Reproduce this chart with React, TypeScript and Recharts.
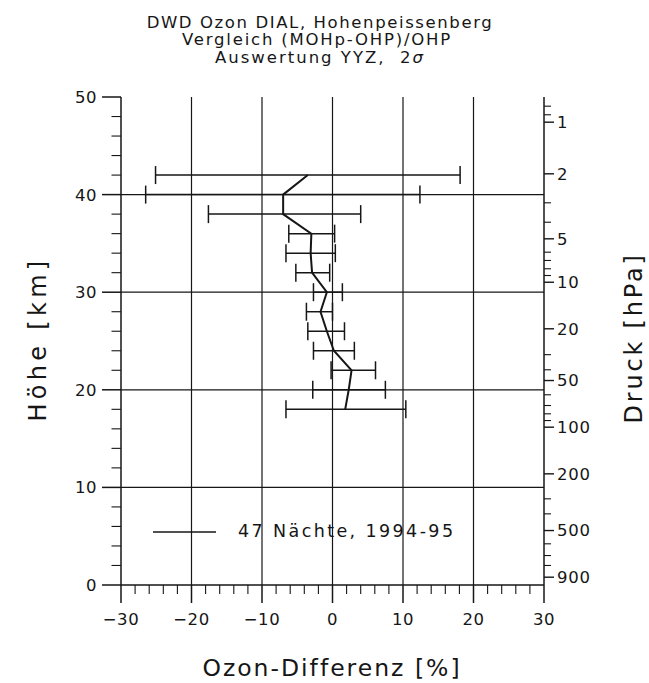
import React from 'react';
import { ScatterChart, Scatter, XAxis, YAxis, ErrorBar, ReferenceLine, Legend } from 'recharts';

// ---- data ----
const heights = [42, 40, 38, 36, 34, 32, 30, 28, 26, 24, 22, 20, 18];
const meanDiff = [-3.5, -7.0, -7.0, -3.0, -3.1, -2.9, -0.8, -1.7, -0.8, 0.2, 2.7, 2.3, 1.8];
const lowerBound = [-25.1, -26.5, -17.6, -6.2, -6.6, -5.2, -2.7, -3.7, -3.5, -2.7, -0.2, -2.8, -6.6];
const upperBound = [18.1, 12.4, 4.0, 0.3, 0.4, -0.4, 1.4, 0.0, 1.7, 3.1, 6.1, 7.5, 10.4];

const xTicks = [-30, -28, -26, -24, -22, -20, -18, -16, -14, -12, -10, -8, -6, -4, -2, 0, 2, 4, 6, 8, 10, 12, 14, 16, 18, 20, 22, 24, 26, 28, 30];
const hTicks = [0, 2, 4, 6, 8, 10, 12, 14, 16, 18, 20, 22, 24, 26, 28, 30, 32, 34, 36, 38, 40, 42, 44, 46, 48, 50];
const xGrid = [-20, -10, 0, 10, 20];
const hGrid = [10, 20, 30, 40];

const pressureLevels = [0.8, 0.9, 1, 2, 3, 4, 5, 6, 7, 8, 9, 10, 20, 30, 40, 50, 60, 70, 80, 90, 100, 200, 300, 400, 500, 600, 700, 800, 900];
const pressureHeights = [49.06, 48.18, 47.42, 42.13, 39.16, 37.17, 35.47, 34.1, 33.25, 32.4, 31.71, 31.02, 26.25, 23.6, 22.05, 20.95, 19.49, 18.39, 17.54, 16.85, 16.17, 11.39, 8.83, 7.29, 5.58, 4.22, 3.02, 2.0, 0.8];
const labeledPressures = [1, 2, 5, 10, 20, 50, 100, 200, 500, 900];

const titleLines = ['DWD Ozon DIAL, Hohenpeissenberg', 'Vergleich (MOHp-OHP)/OHP', 'Auswertung YYZ,  2'];
const xTitle = 'Ozon-Differenz [%]';
const yTitle = 'Höhe [km]';
const pTitle = 'Druck [hPa]';
const legendLabel = '47 Nächte, 1994-95';

const data = heights.map((h, i) => ({
  h,
  x: meanDiff[i],
  err: [meanDiff[i] - lowerBound[i], upperBound[i] - meanDiff[i]],
}));

const FONT = '"DejaVu Sans", Verdana, sans-serif';
const INK = '#161616';

const fmt = (v: number) => (v < 0 ? '\u2212' + Math.abs(v) : String(v));

const XTick = (props: any) => {
  const { x, y, payload } = props;
  const v = payload.value;
  const major = v % 10 === 0;
  return (
    <g>
      <line x1={x} y1={y} x2={x} y2={y + (major ? 18 : 9)} stroke={INK} strokeWidth={major ? 1.5 : 1.1} />
      {major && (
        <text x={x} y={y + 40} textAnchor="middle" fontSize={16.5} fontFamily={FONT} fill={INK} letterSpacing={0.6}>
          {fmt(v)}
        </text>
      )}
    </g>
  );
};

const HTick = (props: any) => {
  const { x, y, payload } = props;
  const v = payload.value;
  const major = v % 10 === 0;
  return (
    <g>
      <line x1={x} y1={y} x2={x - (major ? 19 : 9.5)} y2={y} stroke={INK} strokeWidth={major ? 1.5 : 1.1} />
      {major && (
        <text x={x - 24} y={y} dy="0.36em" textAnchor="end" fontSize={16.5} fontFamily={FONT} fill={INK} letterSpacing={0.5}>
          {v}
        </text>
      )}
    </g>
  );
};

const PTick = (props: any) => {
  const { x, y, payload } = props;
  let idx = pressureHeights.indexOf(payload.value);
  if (idx < 0) {
    let best = 0;
    pressureHeights.forEach((ph, i) => {
      if (Math.abs(ph - payload.value) < Math.abs(pressureHeights[best] - payload.value)) best = i;
    });
    idx = best;
  }
  const p = pressureLevels[idx];
  const labeled = labeledPressures.indexOf(p) >= 0;
  return (
    <g>
      <line x1={x} y1={y} x2={x + (labeled ? 10 : 7)} y2={y} stroke={INK} strokeWidth={labeled ? 1.4 : 1.1} />
      {labeled && (
        <text x={x + 13} y={y} dy="0.36em" textAnchor="start" fontSize={16.5} fontFamily={FONT} fill={INK} letterSpacing={0.8}>
          {p}
        </text>
      )}
    </g>
  );
};

const LegendContent = () => (
  <svg width={330} height={30} style={{ display: 'block', overflow: 'visible' }}>
    <line x1={3} y1={14} x2={66} y2={14} stroke={INK} strokeWidth={1.6} />
    <text x={88} y={19} fontSize={17.5} fontFamily={FONT} fill={INK} letterSpacing={2.4}>
      {legendLabel}
    </text>
  </svg>
);

export default function App() {
  return (
    <div style={{ position: 'absolute', left: 0, top: 0, width: 649, height: 683, background: '#fff' }}>
      <ScatterChart width={649} height={683} margin={{ top: 97, right: 45, bottom: 38, left: 61 }}>
        <XAxis
          type="number"
          dataKey="x"
          domain={[-30, 30]}
          ticks={xTicks}
          interval={0}
          tickLine={false}
          tickSize={0}
          tickMargin={0}
          height={60}
          allowDataOverflow
          axisLine={{ stroke: INK, strokeWidth: 1.5 }}
          tick={<XTick />}
        />
        <YAxis
          yAxisId="h"
          type="number"
          dataKey="h"
          orientation="left"
          domain={[0, 50]}
          ticks={hTicks}
          interval={0}
          tickLine={false}
          tickSize={0}
          tickMargin={0}
          width={60}
          allowDataOverflow
          axisLine={{ stroke: INK, strokeWidth: 1.5 }}
          tick={<HTick />}
        />
        <YAxis
          yAxisId="p"
          type="number"
          orientation="right"
          domain={[0, 50]}
          ticks={pressureHeights}
          interval={0}
          tickLine={false}
          tickSize={0}
          tickMargin={0}
          width={60}
          allowDataOverflow
          axisLine={{ stroke: INK, strokeWidth: 1.5 }}
          tick={<PTick />}
        />
        {xGrid.map((v) => (
          <ReferenceLine key={'vx' + v} yAxisId="h" x={v} stroke={INK} strokeWidth={1.2} />
        ))}
        {hGrid.map((v) => (
          <ReferenceLine key={'hy' + v} yAxisId="h" y={v} stroke={INK} strokeWidth={1.2} />
        ))}
        <Legend
          layout="horizontal"
          verticalAlign="middle"
          align="center"
          content={<LegendContent />}
          wrapperStyle={{ position: 'absolute', left: 150, top: 518, width: 330, height: 30 }}
        />
        <Scatter
          name={legendLabel}
          data={data}
          yAxisId="h"
          isAnimationActive={false}
          line={{ stroke: INK, strokeWidth: 2 }}
          lineJointType="linear"
          shape={() => <g />}
          fill={INK}
        >
          <ErrorBar dataKey="err" direction="x" width={9} stroke={INK} strokeWidth={1.5} isAnimationActive={false} />
        </Scatter>
      </ScatterChart>
      <svg
        width={649}
        height={683}
        style={{ position: 'absolute', left: 0, top: 0, pointerEvents: 'none' }}
      >
        <text x={320} y={27.5} textAnchor="middle" fontSize={16.5} fontFamily={FONT} fill={INK} letterSpacing={1.6} style={{ whiteSpace: 'pre' }}>
          {titleLines[0]}
        </text>
        <text x={317} y={45} textAnchor="middle" fontSize={16.5} fontFamily={FONT} fill={INK} letterSpacing={1.8} style={{ whiteSpace: 'pre' }}>
          {titleLines[1]}
        </text>
        <text x={320} y={63} textAnchor="middle" fontSize={16.5} fontFamily={FONT} fill={INK} letterSpacing={2} style={{ whiteSpace: 'pre' }}>
          {titleLines[2]}
          <tspan fontStyle="italic">σ</tspan>
        </text>
        <text x={332} y={676} textAnchor="middle" fontSize={23.5} fontFamily={FONT} fill={INK} letterSpacing={2}>
          {xTitle}
        </text>
        <text
          x={46}
          y={339}
          textAnchor="middle"
          fontSize={24}
          fontFamily={FONT}
          fill={INK}
          letterSpacing={4.3}
          transform="rotate(-90, 46, 339)"
        >
          {yTitle}
        </text>
        <text
          x={642}
          y={338}
          textAnchor="middle"
          fontSize={24}
          fontFamily={FONT}
          fill={INK}
          letterSpacing={2.8}
          transform="rotate(-90, 642, 338)"
        >
          {pTitle}
        </text>
      </svg>
    </div>
  );
}
